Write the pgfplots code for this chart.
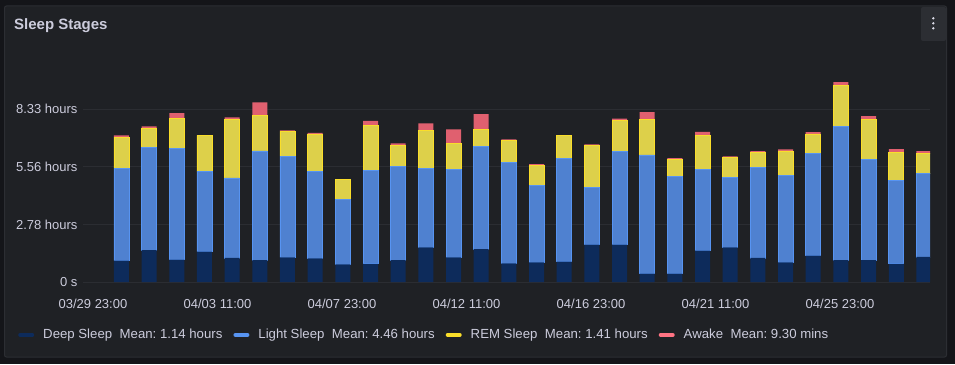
\documentclass[border=0pt]{standalone}
\usepackage{fontspec}
\setmainfont{Liberation Sans}
\usepackage{pgfplots}
\usepackage{pgfplotstable}
\pgfplotsset{compat=1.18}
\frenchspacing
\definecolor{canvas}{HTML}{141519}
\definecolor{panel}{HTML}{1F2125}
\definecolor{panelborder}{HTML}{2C2E33}
\definecolor{menubg}{HTML}{2C2E33}
\definecolor{gridc}{HTML}{2B2D32}
\definecolor{textc}{HTML}{CCCCDC}
\definecolor{deepc}{HTML}{0D2B5B}
\definecolor{lightc}{HTML}{4F81D0}
\definecolor{lightl}{HTML}{5794F2}
\definecolor{remc}{HTML}{DDD04A}
\definecolor{reml}{HTML}{FADE2A}
\definecolor{awakec}{HTML}{E0606F}
\definecolor{awakel}{HTML}{FF7383}
\pgfplotstableread{
x deep light rem awake
0 1.03 4.47 1.49 0.08
1 1.54 4.97 0.92 0.08
2 1.08 5.38 1.42 0.27
3 1.46 3.86 1.75 0.00
4 1.16 3.86 2.84 0.08
5 1.06 5.27 1.72 0.62
6 1.19 4.89 1.19 0.05
7 1.14 4.21 1.80 0.05
8 0.85 3.14 0.96 0.00
9 0.88 4.52 2.14 0.23
10 1.06 4.53 0.99 0.11
11 1.67 3.80 1.83 0.35
12 1.19 4.26 1.25 0.66
13 1.59 4.97 0.79 0.75
14 0.90 4.86 1.06 0.06
15 0.95 3.71 0.95 0.08
16 0.98 5.00 1.11 0.00
17 1.80 2.78 2.00 0.06
18 1.80 4.52 1.48 0.08
19 0.40 5.73 1.73 0.34
20 0.40 4.71 0.81 0.06
21 1.51 3.91 1.64 0.19
22 1.67 3.39 0.94 0.06
23 1.16 4.37 0.71 0.08
24 0.95 4.19 1.19 0.07
25 1.27 4.94 0.94 0.08
26 1.05 6.46 1.96 0.18
27 1.05 4.88 1.93 0.15
28 0.88 4.01 1.38 0.14
29 1.21 4.02 0.96 0.13
}\sleepdata
\begin{document}
\begin{tikzpicture}
\fill[canvas] (0pt,0pt) rectangle (955pt,364pt);
\filldraw[fill=panel, draw=panelborder, line width=1pt, rounded corners=2pt] (4.5pt,7pt) rectangle (946.5pt,358pt);
\fill[menubg, rounded corners=2pt] (921pt,323pt) rectangle (946pt,357pt);
\fill[textc!70] (933.3pt,345.7pt) circle (1.3pt);
\fill[textc!70] (933.3pt,340.7pt) circle (1.3pt);
\fill[textc!70] (933.3pt,335.7pt) circle (1.3pt);
\node[anchor=base west, inner sep=0pt, text=textc, font=\bfseries\fontsize{15pt}{18pt}\selectfont] at (14pt,334.7pt) {Sleep Stages};
\begin{axis}[
  at={(83pt,82pt)}, anchor=south west,
  scale only axis, width=847pt, height=238.3pt,
  xmin=-1.39, xmax=29.22, ymin=0, ymax=11.5,
  axis line style={draw=none},
  major tick style={draw=none},
  ymajorgrids, grid style={draw=gridc, line width=1pt},
  ytick={0,2.7778,5.5556,8.3333},
  yticklabels={0 s,2.78 hours,5.56 hours,8.33 hours},
  xtick={-1.03,3.47,7.97,12.47,16.97,21.47,25.97},
  xticklabels={03/29 23:00,04/03 11:00,04/07 23:00,04/12 11:00,04/16 23:00,04/21 11:00,04/25 23:00},
  tick label style={font=\fontsize{13pt}{15pt}\selectfont, text=textc},
  yticklabel style={anchor=east, xshift=-2pt},
  xticklabel style={anchor=north, yshift=-14pt},
  ybar stacked, bar width=15pt,
  legend columns=4,
  legend style={at={(-0.0767,-0.222)}, anchor=west, draw=none, fill=none,
    text=textc, font=\fontsize{13.2pt}{15pt}\selectfont, inner sep=0pt,
    /tikz/every odd column/.append style={column sep=7pt},
    /tikz/every even column/.append style={column sep=9pt}},
  legend cell align=left,
]
\addplot[fill=deepc, draw=none,
  legend image code/.code={\draw[draw=deepc, line width=4pt, line cap=round] (1pt,0pt)--(13pt,0pt);}]
  table[x=x, y=deep] {\sleepdata};
\addlegendentry{Deep Sleep\hspace{7.5pt}Mean: 1.14 hours}
\addplot[fill=lightc, draw=lightl, line width=0.6pt,
  legend image code/.code={\draw[draw=lightl, line width=4pt, line cap=round] (1pt,0pt)--(13pt,0pt);}]
  table[x=x, y=light] {\sleepdata};
\addlegendentry{Light Sleep\hspace{7.5pt}Mean: 4.46 hours}
\addplot[fill=remc, draw=reml, line width=0.6pt,
  legend image code/.code={\draw[draw=reml, line width=4pt, line cap=round] (1pt,0pt)--(13pt,0pt);}]
  table[x=x, y=rem] {\sleepdata};
\addlegendentry{REM Sleep\hspace{7.5pt}Mean: 1.41 hours}
\addplot[fill=awakec, draw=none,
  legend image code/.code={\draw[draw=awakel, line width=4pt, line cap=round] (1pt,0pt)--(13pt,0pt);}]
  table[x=x, y=awake] {\sleepdata};
\addlegendentry{Awake\hspace{7.5pt}Mean: 9.30 mins}
\end{axis}
\end{tikzpicture}
\end{document}
